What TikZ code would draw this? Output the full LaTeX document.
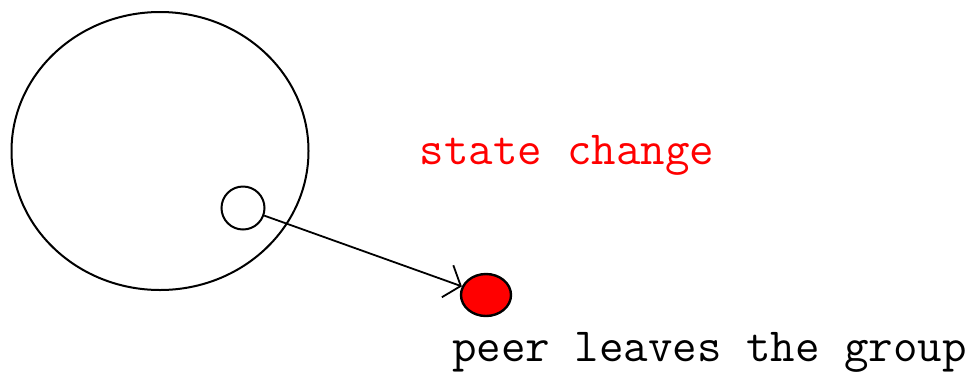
\documentclass[tikz,border=0pt]{standalone}
\usetikzlibrary{arrows.meta,shapes.geometric}
\definecolor{StateRed}{HTML}{FF0000}

\begin{document}
\begin{tikzpicture}[x=1pt,y=-1pt,
  group/.style={ellipse,draw=black,line width=2pt,minimum width=297pt,minimum height=278pt,inner sep=0pt},
  member/.style={circle,draw=black,line width=2pt,minimum size=43pt,inner sep=0pt},
  gone/.style={ellipse,draw=black,fill=StateRed,line width=2.4pt,minimum width=50pt,minimum height=42pt,inner sep=0pt},
  note/.style={font=\fontsize{47.6}{50}\selectfont\ttfamily,inner sep=0pt},
  arrow/.style={-{Straight Barb[length=14pt,width=34pt]},draw=black,line width=1.8pt}
]
\useasboundingbox (0,0) rectangle (979,373);
\node[group] (grp) at (160,151) {};
\node[member] (peer) at (243,208) {};
\node[gone] (left) at (486,295) {};
\node[note,text=StateRed,anchor=base] (state) at (567,164) {state change};
\node[note,anchor=base west] (leave) at (452,361) {peer leaves the group};
\draw[arrow] (peer) -- (left);
\end{tikzpicture}
\end{document}
